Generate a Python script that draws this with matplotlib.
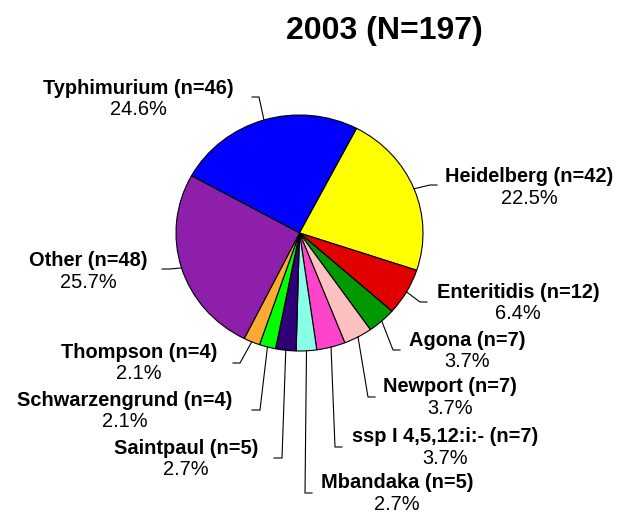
import numpy as np
import matplotlib
matplotlib.use("Agg")
import matplotlib.pyplot as plt

plt.rcParams['font.family'] = ['Liberation Sans', 'DejaVu Sans']

title = "2003 (N=197)"
names = ["Typhimurium", "Heidelberg", "Enteritidis", "Agona", "Newport",
         "ssp I 4,5,12:i:-", "Mbandaka", "Saintpaul", "Schwarzengrund",
         "Thompson", "Other"]
counts = [46, 42, 12, 7, 7, 7, 5, 5, 4, 4, 48]
pcts = [24.6, 22.5, 6.4, 3.7, 3.7, 3.7, 2.7, 2.7, 2.1, 2.1, 25.7]
colors = ["#0000FF", "#FFFF00", "#E00000", "#009900", "#FFC0C0",
          "#FF44CC", "#88FFE6", "#2E0078", "#00FF00", "#FFAA33", "#8E1FAA"]

# label layout (pixel coords of figure, y from top): name centre, elbow, end of horizontal
label_pos = [(138, 88), (529, 177), (518, 292), (467, 340), (450, 387),
             (445, 437), (397, 483), (186, 448), (125, 400), (139, 352), (88, 261)]
elbows = [(259, 97), (430, 185), (420, 302), (393, 350), (368, 397),
          (335, 447), (305, 493), (282, 458), (260, 410), (240, 363), (170, 269)]
ends = [252, 437, 427, 400, 375, 342, 312, 274, 252, 233, 162]

W, H = 628, 515
fig = plt.figure(figsize=(W / 100, H / 100), dpi=100)

# pie axes (slightly elliptical as in reference)
cx, cy, rx, ry = 299.5, 233, 123.5, 118
pax = fig.add_axes([(cx - rx) / W, (H - cy - ry) / H, 2 * rx / W, 2 * ry / H])
wedges, _ = pax.pie(counts, colors=colors, startangle=151, counterclock=False,
                    wedgeprops=dict(edgecolor='black', linewidth=0.8))
pax.set_xlim(-1, 1)
pax.set_ylim(-1, 1)
pax.set_aspect('auto')
pax.axis('off')

lay = fig.add_axes([0, 0, 1, 1], zorder=5)
lay.set_xlim(0, W)
lay.set_ylim(H, 0)
lay.axis('off')

lay.text(384, 38.5, title, ha='center', va='baseline',
         fontsize=23, fontweight='bold')

for w, name, n, p, (lx, ly), (ex, ey), endx in zip(wedges, names, counts, pcts,
                                                    label_pos, elbows, ends):
    mid = np.deg2rad((w.theta1 + w.theta2) / 2)
    disp = pax.transData.transform((np.cos(mid), np.sin(mid)))
    px, py = lay.transData.inverted().transform(disp)
    lay.plot([px, ex, endx], [py, ey, ey], color='black', lw=0.8)
    lay.text(lx, ly, f"{name} (n={n})", ha='center', va='center',
             fontsize=14.4, fontweight='bold')
    lay.text(lx, ly + 21.5, f"{p:.1f}%", ha='center', va='center', fontsize=14.4)

fig.savefig("out.png", dpi=100)
